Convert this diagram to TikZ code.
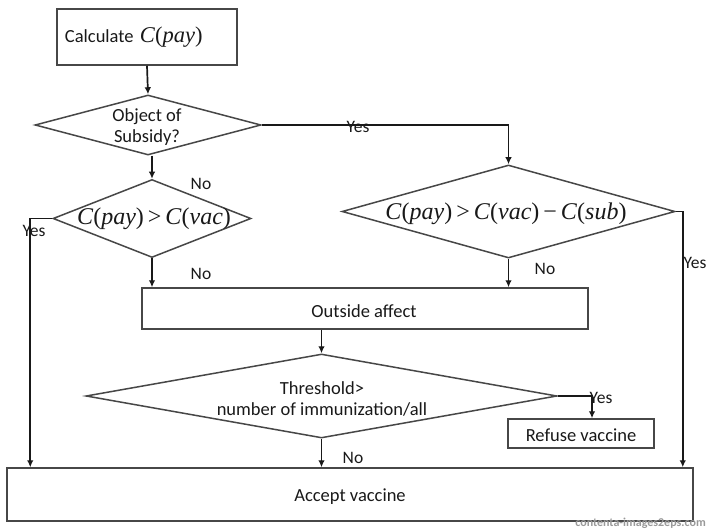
\documentclass[tikz,border=0pt]{standalone}
\usepackage{fontspec}
\setmainfont{Carlito}
\newfontfamily\tms{Liberation Serif}
\usetikzlibrary{shapes.geometric,arrows.meta,calc}
% cost term such as C(pay), set in a Times-like serif
\newcommand{\cost}[1]{\textit{C}(\textit{#1})}
\begin{document}
\begin{tikzpicture}[x=1bp,y=-1bp,
  every node/.style={font=\fontsize{18.5bp}{21bp}\selectfont, text=black!90},
  box/.style={draw=black!72, line width=1.5bp, inner sep=0pt},
  choice/.style={diamond, draw=black!72, line width=1.5bp, inner sep=0pt},
  arr/.style={line width=1.7bp, draw=black!90, -{Latex[length=7bp,width=6.5bp]}},
  lbl/.style={font=\fontsize{17.5bp}{20bp}\selectfont},
  formula/.style={font=\fontsize{24bp}{28bp}\selectfont\tms}]
\useasboundingbox (0,0) rectangle (708,529);
\fill[white] (0,0) rectangle (708,529);

% boxes
\node[box, minimum width=180bp, minimum height=56bp, text width=164bp, align=left]
  (calc) at (147,37) {Calculate {\tms\fontsize{22.5bp}{26bp}\selectfont\cost{pay}}};
\node[box, minimum width=446bp, minimum height=41bp] (out) at (365,308.5) {};
\node (outtxt) at (364,311) {Outside affect};
\node[box, minimum width=146bp, minimum height=29bp] (refuse) at (581,433.5) {};
\node (reftxt) at (581,435) {Refuse vaccine};
\node[box, minimum width=686bp, minimum height=53bp] (accept) at (350,494.5) {};
\node (acctxt) at (350,497) {Accept vaccine};

% decisions
\node[choice, minimum width=226bp, minimum height=60bp] (d1) at (148,125) {};
\node[align=center] (d1txt) at (147,127) {Object of\\Subsidy?};
\node[choice, minimum width=198bp, minimum height=78bp] (d2) at (152,218.5) {};
\node[formula] (d2txt) at (154,219) {\cost{pay}\,>\,\cost{vac}};
\node[choice, minimum width=333bp, minimum height=93bp] (d3) at (508.5,211.5) {};
\node[formula] (d3txt) at (506,214) {\cost{pay}\,>\,\cost{vac}\,\textminus\,\cost{sub}};
\node[choice, minimum width=471bp, minimum height=84bp] (thr) at (321.5,396) {};
\node[align=center] (thrtxt) at (322,399) {Threshold>\\number of immunization/all};

% connectors
\draw[arr] (calc.south) -- (d1.north);
\draw[arr] (d1.south -| d2.north) -- (d2.north);
\draw[arr] (d1.east) -| (d3.north);
\draw[arr] (d2.south) -- (d2.south |- out.north);
\draw[arr] (d3.south) -- (d3.south |- out.north);
\draw[arr] (d2.west) -| ($(accept.north west)+(24,0)$);
\draw[arr] (d3.east) -| ($(accept.north east)+(-11,0)$);
\draw[arr] (thr.north |- out.south) -- (thr.north);
\draw[arr] (thr.east) -| ($(refuse.north)+(11,0)$);
\draw[arr] (thr.south) -- (thr.south |- accept.north);

% branch labels
\node[lbl] (y1) at (358,127) {Yes};
\node[lbl] (n1) at (201,184) {No};
\node[lbl] (y2) at (34,231) {Yes};
\node[lbl] (n2) at (201,274) {No};
\node[lbl] (n3) at (545,269) {No};
\node[lbl] (y3) at (695,263) {Yes};
\node[lbl] (y4) at (601,398) {Yes};
\node[lbl] (n4) at (353,458) {No};

% source credit
\node[font=\fontsize{12bp}{13bp}\selectfont\bfseries, text=black!40, anchor=east, inner sep=1pt]
  (credit) at (707,523) {contenta-images2eps.com};
\end{tikzpicture}
\end{document}
